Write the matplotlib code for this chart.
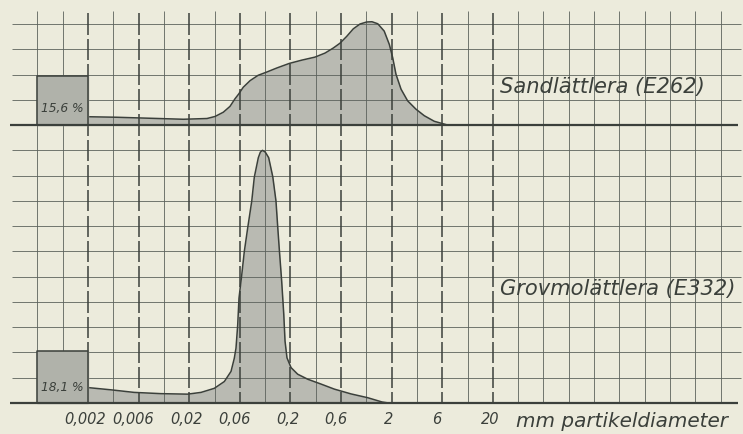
import numpy as np
import matplotlib
matplotlib.use("Agg")
import matplotlib.pyplot as plt

# grain size distribution
# x = particle diameter (mm), y = height in grid cells above the baseline
sand_d = [0.002, 0.0038, 0.0082, 0.0175, 0.030, 0.036, 0.0435, 0.0506, 0.0567,
          0.0617, 0.0685, 0.080, 0.096, 0.117, 0.147, 0.195, 0.259, 0.350,
          0.440, 0.531, 0.618, 0.720, 0.837, 0.975, 1.135, 1.28, 1.46, 1.69,
          1.90, 2.05, 2.21, 2.48, 2.88, 3.48, 4.21, 5.28, 7.17]
sand_y = [0.33, 0.31, 0.27, 0.23, 0.26, 0.34, 0.51, 0.74, 1.04,
          1.23, 1.50, 1.76, 1.97, 2.10, 2.26, 2.44, 2.57, 2.69,
          2.85, 3.05, 3.24, 3.51, 3.81, 4.00, 4.08, 4.09, 4.01, 3.72,
          3.19, 2.67, 2.01, 1.42, 0.96, 0.63, 0.37, 0.15, 0.0]

grov_d = [0.002, 0.0034, 0.0057, 0.0105, 0.0193, 0.0262, 0.0354, 0.0445, 0.0518,
          0.0558, 0.0580, 0.0603, 0.0621, 0.0661, 0.0701, 0.0757, 0.0830, 0.0880,
          0.0964, 0.101, 0.106, 0.113, 0.122, 0.134, 0.144, 0.150, 0.155,
          0.164, 0.172, 0.177, 0.185, 0.203, 0.236, 0.297, 0.401, 0.543,
          0.794, 1.16, 1.61, 1.87]
grov_y = [0.61, 0.52, 0.42, 0.37, 0.35, 0.42, 0.58, 0.85, 1.25,
          1.77, 2.17, 3.09, 4.15, 5.07, 6.00, 6.93, 7.99, 8.94,
          9.71, 9.93, 10.0, 9.93, 9.71, 8.95, 8.00, 6.95, 6.14,
          4.82, 3.51, 2.45, 1.79, 1.40, 1.14, 0.94, 0.75, 0.55,
          0.36, 0.21, 0.04, 0.0]

names = ["Sandlättlera (E262)", "Grovmolättlera (E332)"]
clay_pct = ["15,6 %", "18,1 %"]      # fraction finer than 0,002 mm
clay_box_h = [1.95, 2.06]             # box heights

tick_values = [0.002, 0.006, 0.02, 0.06, 0.2, 0.6, 2, 6, 20]
tick_labels = ["0,002", "0,006", "0,02", "0,06", "0,2", "0,6", "2", "6", "20"]

bg = "#ecebdc"
ink = "#3b403b"
grid_ink = "#5c625c"
fill = "#b9bab2"
boxfill = "#b0b2aa"


def grid_x(k):
    # one grid column is a quarter decade, column 0 at 0.002 mm
    return 0.002 * 10 ** (np.asarray(k) / 4.0)


fig = plt.figure(figsize=(7.43, 4.35), dpi=100)
fig.patch.set_facecolor(bg)
ax = fig.add_axes([0, 0, 1, 1])
ax.set_facecolor(bg)
ax.set_xscale("log")
ax.set_xlim(grid_x(-88 / 25.3), grid_x((743 - 88) / 25.3))
ax.set_ylim(-1.227, 15.99)
ax.axis("off")

# thin grid
cols = np.arange(-2, 26)
thin_cols = [k for k in cols if not (k % 2 == 0 and 0 <= k <= 16)]
ax.vlines(grid_x(thin_cols), 0, 15.5, color=grid_ink, lw=0.6, zorder=2)
rows = [r for r in range(16) if r not in (0, 11)]
ax.hlines(rows, grid_x(-3.0), grid_x(25.8), color=grid_ink, lw=0.6, zorder=2)

# bold broken lines at the labelled diameters
for k in range(0, 17, 2):
    for r in range(16):
        lo = max(r - 0.42, 0)
        hi = min(r + 0.42, 15.5)
        ax.vlines(grid_x(k), lo, hi, color=ink, lw=1.1, zorder=2)

# baselines of the two curves
bases = [11, 0]
ax.hlines(bases, grid_x(-3.08), grid_x(25.7), color=ink, lw=1.6, zorder=4)

curves = [(sand_d, sand_y), (grov_d, grov_y)]
label_y = [12.55, 4.55]
pct_y = [0.71, 0.67]
for i, (d, y) in enumerate(curves):
    base = bases[i]
    d = np.array(d)
    y = np.array(y)
    ax.fill_between(d, base, base + y, color=fill, lw=0, zorder=1)
    ax.plot(d, base + y, color=ink, lw=1.1, zorder=3)
    # clay box left of 0,002 mm
    bx = [grid_x(-2), grid_x(0), grid_x(0), grid_x(-2), grid_x(-2)]
    by = [base, base, base + clay_box_h[i], base + clay_box_h[i], base]
    ax.fill(bx, by, color=boxfill, zorder=3)
    ax.plot(bx, by, color=ink, lw=1.1, zorder=4)
    ax.text(grid_x(-1.0), base + pct_y[i], clay_pct[i], fontsize=8.8,
            style="italic", color=ink, ha="center", va="center", zorder=5)
    ax.text(grid_x(16.3), label_y[i], names[i], fontsize=15.1, style="italic",
            color=ink, ha="left", va="center", zorder=5)

for v, t in zip(tick_values, tick_labels):
    ax.annotate(t, (v, -0.6), xytext=(-3, 0), textcoords="offset pixels",
                fontsize=10.5, style="italic", color=ink, ha="center", va="center")
ax.text(grid_x(16.9), -0.68, "mm partikeldiameter", fontsize=14.4,
        style="italic", color=ink, ha="left", va="center")

fig.savefig("out.png", dpi=100, facecolor=bg)
